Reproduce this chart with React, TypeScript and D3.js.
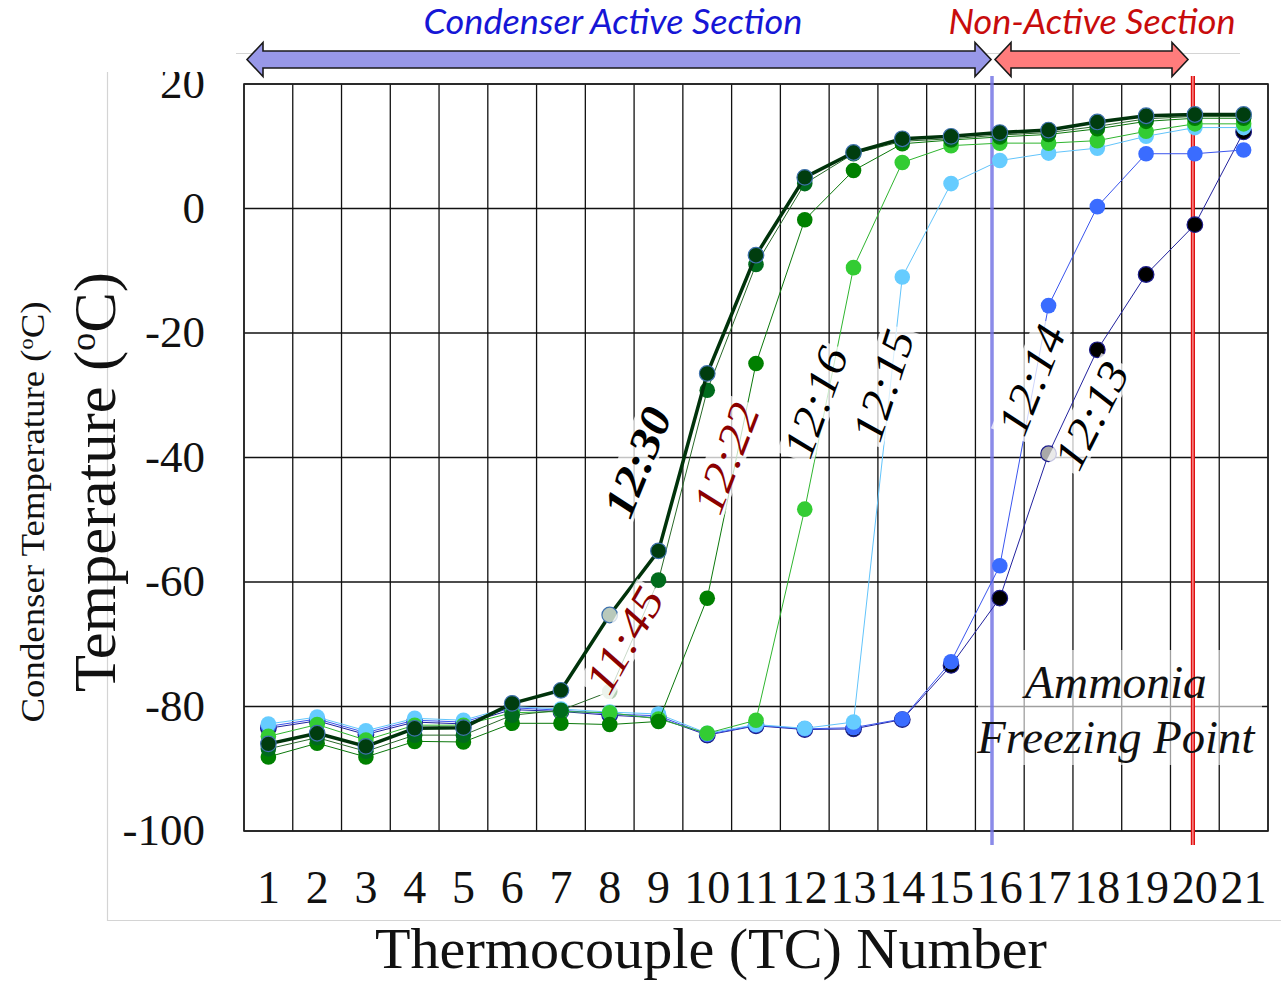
import React, { useRef, useEffect } from "react";
import * as d3 from "d3";

// thermocouple numbers along the condenser
const tcNumbers = [1, 2, 3, 4, 5, 6, 7, 8, 9, 10, 11, 12, 13, 14, 15, 16, 17, 18, 19, 20, 21];
const yTicks = [-100, -80, -60, -40, -20, 0, 20];

// temperature profile (degC) at each thermocouple
const temps1213 = [-83.5, -82.3, -84.5, -82.5, -82.8, -80.5, -80.8, -81.4, -81.8, -84.6, -83.1, -83.7, -83.6, -82.1, -73.4, -62.6, -39.4, -22.7, -10.6, -2.6, 12.3];
const temps1214 = [-83.2, -82, -84.2, -82.2, -82.5, -80.2, -80.6, -81.2, -81.5, -84.5, -83, -83.6, -83.4, -82, -72.8, -57.4, -15.6, 0.3, 8.8, 8.8, 9.4];
const temps1215 = [-82.8, -81.7, -83.9, -81.9, -82.2, -80, -80.4, -80.9, -81.2, -84.3, -82.9, -83.5, -82.5, -11, 4, 7.7, 8.9, 9.7, 11.6, 13, 13];
const temps1216 = [-84.8, -82.9, -85.4, -83, -83, -81, -80.8, -81, -82, -84.3, -82.2, -48.3, -9.5, 7.4, 10.1, 10.5, 10.5, 10.9, 12.4, 13.6, 13.6];
const temps1222 = [-88.1, -85.9, -88.1, -85.6, -85.7, -82.7, -82.7, -82.9, -82.4, -62.6, -24.9, -1.8, 6.1, 10.4, 11, 11.5, 11.9, 12.8, 14, 14.5, 14.5];
const temps1145 = [-86.8, -85, -87.2, -84.6, -84.6, -81.4, -80.6, -77.6, -59.7, -29.2, -9, 4, 8.8, 10.8, 11.2, 11.8, 12.2, 13.2, 14.4, 14.8, 14.8];
const temps1230 = [-86, -84.3, -86.4, -83.5, -83.4, -79.5, -77.4, -65.3, -55, -26.5, -7.5, 5, 9, 11.2, 11.6, 12.2, 12.6, 13.9, 14.9, 15.1, 15.1];

// draw order: 12:30 ends up on top
const seriesNames = ["12:13", "12:14", "12:15", "12:16", "12:22", "11:45", "12:30"];
const seriesValues = [temps1213, temps1214, temps1215, temps1216, temps1222, temps1145, temps1230];

// markers that were greyed out in the original
const greyMarkers = [
    { name: "12:30", tc: 8, fill: "#b9c9bb" },
    { name: "11:45", tc: 8, fill: "#b3ceb3" },
    { name: "12:13", tc: 17, fill: "#a9a9a9" },
];

// section boundary lines (in TC units)
const activeEndTc = 15.84;
const freezeTc = 19.96;

const seriesStyle = {
    "12:13": { line: "#22229e", width: 1, fill: "#000000", stroke: "#1c1c8a" },
    "12:14": { line: "#3a55ee", width: 1, fill: "#3a6cff", stroke: "none" },
    "12:15": { line: "#62c4fb", width: 1, fill: "#66ccff", stroke: "none" },
    "12:16": { line: "#2fb52f", width: 1, fill: "#33cc33", stroke: "none" },
    "12:22": { line: "#0b780b", width: 1, fill: "#008000", stroke: "none" },
    "11:45": { line: "#2a6a2a", width: 1, fill: "#006b1c", stroke: "none" },
    "12:30": { line: "#00330b", width: 3.5, fill: "#003d0f", stroke: "#3f72ad" },
};

// where the time stamps sit, in data units
const timeLabels = [
    { text: "12:30", tc: 8.56, t: -40.7, angle: -68, color: "#000000", bold: true },
    { text: "12:22", tc: 10.38, t: -40.1, angle: -69, color: "#8b0000", bold: false },
    { text: "11:45", tc: 8.29, t: -69.3, angle: -60, color: "#8b0000", bold: false },
    { text: "12:16", tc: 12.21, t: -31.1, angle: -70, color: "#000000", bold: false },
    { text: "12:15", tc: 13.6, t: -28.4, angle: -72, color: "#000000", bold: false },
    { text: "12:14", tc: 16.64, t: -27.5, angle: -68, color: "#000000", bold: false },
    { text: "12:13", tc: 17.87, t: -33.2, angle: -63, color: "#000000", bold: false },
];

const serif = "'Liberation Serif', 'Times New Roman', serif";
const sans = "Lato, 'Open Sans', sans-serif";

const W = 1281;
const H = 987;
const plot = { left: 244, right: 1268, top: 84, bottom: 831 };

const App = () => {
    const ref = useRef(null);

    useEffect(() => {
        const svg = d3.select(ref.current);
        svg.selectAll("*").remove();

        const x = d3.scaleLinear().domain([0.5, 21.5]).range([plot.left, plot.right]);
        const y = d3.scaleLinear().domain([-100, 20]).range([plot.bottom, plot.top]);

        svg.append("rect").attr("width", W).attr("height", H).attr("fill", "#fff");

        const defs = svg.append("defs");
        defs.append("clipPath").attr("id", "chartArea")
            .append("rect").attr("x", 0).attr("y", 72).attr("width", W).attr("height", H);

        // faint frame of the original chart area
        const frame = svg.append("g").attr("stroke", "#d4d4d4").attr("stroke-width", 1.2);
        frame.append("line").attr("x1", 107.5).attr("x2", 107.5).attr("y1", 72).attr("y2", 921);
        frame.append("line").attr("x1", 107).attr("x2", W).attr("y1", 920.5).attr("y2", 920.5);
        frame.append("line").attr("x1", 236).attr("x2", 1240).attr("y1", 53.5).attr("y2", 53.5);

        // grid
        const grid = svg.append("g").attr("stroke", "#111").attr("stroke-width", 1.3);
        const bounds = [0.5, ...tcNumbers.map((d) => d + 0.5)];
        grid.selectAll("line.v").data(bounds).join("line")
            .attr("class", "v")
            .attr("x1", (d) => x(d)).attr("x2", (d) => x(d))
            .attr("y1", plot.top).attr("y2", plot.bottom);
        grid.selectAll("line.h").data(yTicks).join("line")
            .attr("class", "h")
            .attr("x1", plot.left).attr("x2", plot.right)
            .attr("y1", (d) => y(d)).attr("y2", (d) => y(d));
        svg.append("rect")
            .attr("x", plot.left).attr("y", plot.top)
            .attr("width", plot.right - plot.left).attr("height", plot.bottom - plot.top)
            .attr("fill", "none").attr("stroke", "#222").attr("stroke-width", 1.6);

        // y tick labels (top one is clipped like the original)
        svg.append("g").attr("clip-path", "url(#chartArea)")
            .selectAll("text").data(yTicks).join("text")
            .attr("x", 205).attr("y", (d) => y(d) + 14)
            .attr("text-anchor", "end")
            .attr("font-family", serif).attr("font-size", 45)
            .attr("fill", "#111")
            .text((d) => d);

        // x tick labels
        svg.append("g").selectAll("text").data(tcNumbers).join("text")
            .attr("x", (d) => x(d)).attr("y", 903)
            .attr("text-anchor", "middle")
            .attr("font-family", serif).attr("font-size", 46)
            .attr("fill", "#111")
            .text((d) => d);

        // axis titles
        svg.append("text")
            .attr("x", 711).attr("y", 968)
            .attr("text-anchor", "middle")
            .attr("font-family", serif).attr("font-size", 58)
            .attr("textLength", 672).attr("lengthAdjust", "spacingAndGlyphs")
            .attr("fill", "#111")
            .text("Thermocouple (TC) Number");

        const bigTitle = svg.append("text")
            .attr("transform", "translate(115,482) rotate(-90)")
            .attr("text-anchor", "middle")
            .attr("font-family", serif).attr("font-size", 60)
            .attr("textLength", 420).attr("lengthAdjust", "spacingAndGlyphs")
            .attr("fill", "#111");
        bigTitle.append("tspan").text("Temperature (");
        bigTitle.append("tspan").attr("font-size", 36).attr("dy", -20).text("o");
        bigTitle.append("tspan").attr("dy", 20).text("C)");

        const smallTitle = svg.append("text")
            .attr("transform", "translate(44,512) rotate(-90)")
            .attr("text-anchor", "middle")
            .attr("font-family", serif).attr("font-size", 33)
            .attr("textLength", 421).attr("lengthAdjust", "spacingAndGlyphs")
            .attr("fill", "#111");
        smallTitle.append("tspan").text("Condenser Temperature (");
        smallTitle.append("tspan").attr("font-size", 20).attr("dy", -11).text("o");
        smallTitle.append("tspan").attr("dy", 11).text("C)");

        // section arrows
        const arrow = (x0, x1, cy) => {
            const hl = 16, hh = 17, sh = 8.5;
            return [
                [x0, cy], [x0 + hl, cy - hh], [x0 + hl, cy - sh], [x1 - hl, cy - sh], [x1 - hl, cy - hh],
                [x1, cy], [x1 - hl, cy + hh], [x1 - hl, cy + sh], [x0 + hl, cy + sh], [x0 + hl, cy + hh],
            ].map((p) => p.join(",")).join(" ");
        };
        svg.append("polygon")
            .attr("points", arrow(247, x(activeEndTc) - 1, 59.5))
            .attr("fill", "#9898e8").attr("stroke", "#1a1a1a").attr("stroke-width", 1.6)
            .attr("stroke-linejoin", "miter");
        svg.append("polygon")
            .attr("points", arrow(x(activeEndTc) + 3, 1188, 59.5))
            .attr("fill", "#ff7c7c").attr("stroke", "#1a1a1a").attr("stroke-width", 1.6);

        svg.append("text")
            .attr("x", 613).attr("y", 34)
            .attr("text-anchor", "middle")
            .attr("font-family", sans).attr("font-style", "italic").attr("font-size", 35)
            .attr("textLength", 379).attr("lengthAdjust", "spacingAndGlyphs")
            .attr("fill", "#1616d6")
            .text("Condenser Active Section");
        svg.append("text")
            .attr("x", 1092).attr("y", 34)
            .attr("text-anchor", "middle")
            .attr("font-family", sans).attr("font-style", "italic").attr("font-size", 35)
            .attr("textLength", 287).attr("lengthAdjust", "spacingAndGlyphs")
            .attr("fill", "#c80c0c")
            .text("Non-Active Section");

        // ammonia note box fades the grid behind it
        svg.append("rect")
            .attr("x", 978).attr("y", 650).attr("width", 284).attr("height", 115)
            .attr("fill", "#fff").attr("opacity", 0.6);

        // boundary lines
        svg.append("line")
            .attr("x1", x(activeEndTc)).attr("x2", x(activeEndTc)).attr("y1", 76).attr("y2", 845)
            .attr("stroke", "#7777e6").attr("stroke-width", 3.5).attr("opacity", 0.85);
        svg.append("line")
            .attr("x1", x(freezeTc)).attr("x2", x(freezeTc)).attr("y1", 76).attr("y2", 845)
            .attr("stroke", "#e01010").attr("stroke-width", 4.2);
        svg.append("line")
            .attr("x1", x(freezeTc)).attr("x2", x(freezeTc)).attr("y1", 76).attr("y2", 845)
            .attr("stroke", "#ffb4b4").attr("stroke-width", 1.1);

        // series lines and markers
        const line = d3.line().x((d) => x(d[0])).y((d) => y(d[1]));
        seriesNames.forEach((name, i) => {
            const s = seriesStyle[name];
            const pts = tcNumbers.map((tc, j) => [tc, seriesValues[i][j]]);
            const g = svg.append("g").attr("class", "series");
            g.append("path")
                .attr("d", line(pts))
                .attr("fill", "none")
                .attr("stroke", s.line)
                .attr("stroke-width", s.width)
                .attr("stroke-linejoin", "round");
            g.selectAll("circle").data(pts).join("circle")
                .attr("cx", (d) => x(d[0])).attr("cy", (d) => y(d[1]))
                .attr("r", 7.8)
                .attr("fill", (d) => {
                    const grey = greyMarkers.find((m) => m.name === name && m.tc === d[0]);
                    return grey ? grey.fill : s.fill;
                })
                .attr("stroke", s.stroke)
                .attr("stroke-width", 1.2);
        });

        // time stamps
        timeLabels.forEach((lab) => {
            const g = svg.append("g")
                .attr("transform", `translate(${x(lab.tc)},${y(lab.t)}) rotate(${lab.angle})`);
            g.append("rect")
                .attr("x", -60).attr("y", -19).attr("width", 120).attr("height", 38)
                .attr("fill", "#fff").attr("opacity", 0.75);
            g.append("text")
                .attr("text-anchor", "middle").attr("dy", "0.35em")
                .attr("font-family", serif).attr("font-style", "italic")
                .attr("font-weight", lab.bold ? "bold" : "normal")
                .attr("font-size", 44)
                .attr("textLength", 114).attr("lengthAdjust", "spacingAndGlyphs")
                .attr("fill", lab.color)
                .text(lab.text);
        });

        // ammonia freezing point note
        svg.append("text")
            .attr("x", x(18.38)).attr("y", y(-78.6))
            .attr("text-anchor", "middle")
            .attr("font-family", serif).attr("font-style", "italic").attr("font-size", 46)
            .attr("textLength", 182).attr("lengthAdjust", "spacingAndGlyphs")
            .attr("fill", "#111")
            .text("Ammonia");
        svg.append("text")
            .attr("x", x(18.38)).attr("y", y(-87.5))
            .attr("text-anchor", "middle")
            .attr("font-family", serif).attr("font-style", "italic").attr("font-size", 46)
            .attr("textLength", 277).attr("lengthAdjust", "spacingAndGlyphs")
            .attr("fill", "#111")
            .text("Freezing Point");
    }, []);

    return (
        <svg
            ref={ref}
            width={W}
            height={H}
            style={{ position: "absolute", left: 0, top: 0 }}
        />
    );
};

export default App;
